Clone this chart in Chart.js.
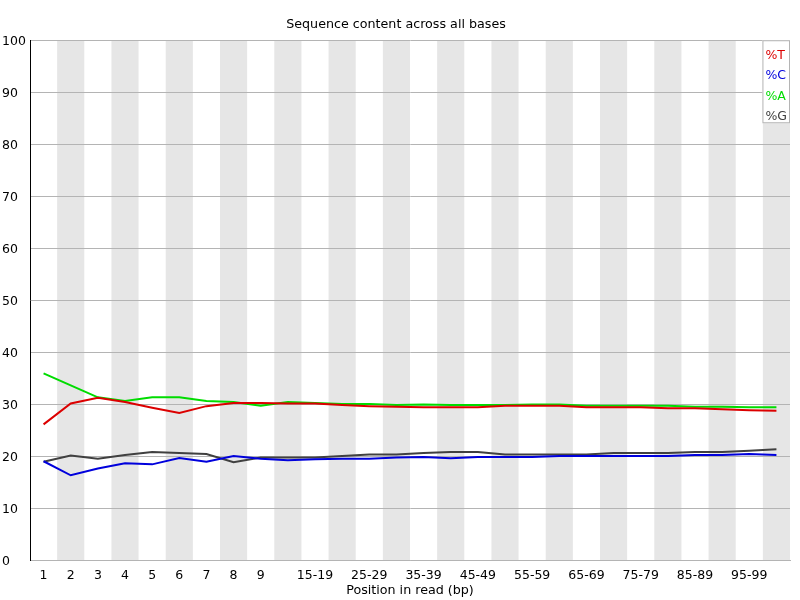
<!DOCTYPE html>
<html lang="en">
<head>
    <meta charset="UTF-8">
    <title>Sequence content across all bases</title>
    <script src="https://cdn.jsdelivr.net/npm/chart.js"></script>
    <style>
        html, body { margin: 0; padding: 0; background: #fff; }
        #wrap { width: 800px; height: 600px; }
    </style>
</head>
<body>
    <div id="wrap"><canvas id="seqChart"></canvas></div>
    <script>
        // positions along the read
        const positions = ['1', '2', '3', '4', '5', '6', '7', '8', '9',
            '10-14', '15-19', '20-24', '25-29', '30-34', '35-39', '40-44', '45-49',
            '50-54', '55-59', '60-64', '65-69', '70-74', '75-79', '80-84', '85-89',
            '90-94', '95-99', '100-101'];
        // which labels are printed under the axis
        const shownTicks = ['1', '2', '3', '4', '5', '6', '7', '8', '9',
            '15-19', '25-29', '35-39', '45-49', '55-59', '65-69', '75-79', '85-89', '95-99'];

        const pctT = [26.1, 30.1, 31.2, 30.4, 29.3, 28.3, 29.6, 30.2, 30.2,
            30.1, 30.1, 29.8, 29.6, 29.5, 29.4, 29.4, 29.4, 29.7, 29.7, 29.7,
            29.4, 29.4, 29.4, 29.2, 29.2, 29.0, 28.8, 28.7];
        const pctC = [19.0, 16.3, 17.6, 18.6, 18.4, 19.6, 18.9, 20.0, 19.5,
            19.2, 19.4, 19.5, 19.5, 19.7, 19.8, 19.6, 19.8, 19.8, 19.8, 20.0,
            20.0, 20.0, 20.0, 20.0, 20.2, 20.2, 20.4, 20.2];
        const pctA = [35.9, 33.6, 31.3, 30.6, 31.3, 31.3, 30.6, 30.4, 29.7,
            30.4, 30.2, 30.0, 30.0, 29.8, 29.9, 29.8, 29.8, 29.8, 29.9, 29.9,
            29.7, 29.7, 29.7, 29.7, 29.5, 29.5, 29.4, 29.4];
        const pctG = [18.9, 20.1, 19.5, 20.2, 20.8, 20.6, 20.4, 18.8, 19.7,
            19.7, 19.7, 20.0, 20.3, 20.3, 20.6, 20.8, 20.8, 20.3, 20.3, 20.3,
            20.3, 20.6, 20.6, 20.6, 20.8, 20.8, 21.0, 21.3];

        const FONT = 'DejaVu Sans';

        // alternating grey stripes behind every other position
        const stripes = {
            id: 'stripes',
            beforeDraw(chart) {
                const { ctx, chartArea, scales } = chart;
                const x = scales.x;
                const w = x.width / positions.length;
                ctx.save();
                ctx.fillStyle = '#e6e6e6';
                positions.forEach((p, i) => {
                    if (i % 2 === 1) {
                        const cx = x.getPixelForValue(i);
                        ctx.fillRect(cx - w / 2, chartArea.top, w, chartArea.bottom - chartArea.top);
                    }
                });
                ctx.restore();
            }
        };

        // small boxed legend in the top right corner of the plot
        const boxLegend = {
            id: 'boxLegend',
            afterDraw(chart) {
                const { ctx, chartArea } = chart;
                const sets = chart.data.datasets;
                ctx.save();
                ctx.font = '12.5px ' + FONT;
                const tw = Math.max(...sets.map(d => ctx.measureText(d.label).width));
                const bw = tw + 6, bh = 83;
                const bx = chartArea.right - bw, by = chartArea.top;
                ctx.fillStyle = '#fff';
                ctx.fillRect(bx, by, bw, bh);
                ctx.strokeStyle = '#b4b4b4';
                ctx.lineWidth = 1;
                ctx.strokeRect(bx + 0.5, by + 0.5, bw - 1, bh - 1);
                ctx.textBaseline = 'middle';
                ctx.textAlign = 'left';
                sets.forEach((d, i) => {
                    ctx.fillStyle = d.borderColor;
                    ctx.fillText(d.label, bx + 3, by + 15.5 + i * 20.5);
                });
                ctx.restore();
            }
        };

        const ctx = document.getElementById('seqChart').getContext('2d');
        new Chart(ctx, {
            type: 'line',
            data: {
                labels: positions,
                datasets: [
                    { label: '%T', data: pctT, borderColor: '#dc0000' },
                    { label: '%C', data: pctC, borderColor: '#0000dc' },
                    { label: '%A', data: pctA, borderColor: '#00dc00' },
                    { label: '%G', data: pctG, borderColor: '#404040' }
                ]
            },
            options: {
                responsive: true,
                maintainAspectRatio: false,
                animation: false,
                layout: { padding: { left: 2, right: 10, top: 0, bottom: 0 } },
                elements: {
                    line: { borderWidth: 2, tension: 0, fill: false },
                    point: { radius: 0 }
                },
                plugins: {
                    legend: { display: false },
                    tooltip: { enabled: false },
                    title: {
                        display: true,
                        text: 'Sequence content across all bases',
                        color: '#000',
                        font: { family: FONT, size: 12.7, weight: 'normal' },
                        padding: { top: 17, bottom: 8 }
                    }
                },
                scales: {
                    x: {
                        type: 'category',
                        offset: true,
                        grid: { display: false },
                        border: { color: '#b4b4b4' },
                        ticks: {
                            autoSkip: false,
                            maxRotation: 0,
                            color: '#000',
                            padding: 0,
                            font: { family: FONT, size: 12.5 },
                            callback: function (v, i) {
                                const l = positions[i];
                                return shownTicks.includes(l) ? l : '';
                            }
                        },
                        title: {
                            display: true,
                            text: 'Position in read (bp)',
                            color: '#000',
                            font: { family: FONT, size: 12.7 },
                            padding: { top: 0, bottom: 2 }
                        },
                        afterFit(scale) { scale.height = 40; }
                    },
                    y: {
                        min: 0,
                        max: 100,
                        grid: { color: '#b4b4b4', drawTicks: false },
                        border: { color: '#000', width: 1 },
                        ticks: {
                            stepSize: 10,
                            color: '#000',
                            crossAlign: 'far',
                            labelOffset: 2,
                            font: { family: FONT, size: 12.5 }
                        },
                        afterFit(scale) { scale.width = 28; }
                    }
                }
            },
            plugins: [stripes, boxLegend]
        });
    </script>
</body>
</html>
